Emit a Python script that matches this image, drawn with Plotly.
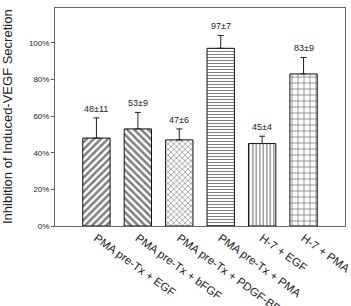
import plotly.graph_objects as go

categories = ["PMA pre-Tx + EGF", "PMA pre-Tx + bFGF", "PMA pre-Tx + PDGF-BB",
              "PMA pre-Tx + PMA", "H-7 + EGF", "H-7 + PMA"]
values = [48, 53, 47, 97, 45, 83]
errors = [11, 9, 6, 7, 4, 9]
labels = ["48±11", "53±9", "47±6", "97±7", "45±4", "83±9"]
patterns = ["/", "\\", "x", "-", "|", "+"]
pattern_sizes = [5, 5, 4, 3, 3.5, 6]
pattern_solidity = [0.5, 0.5, 0.3, 0.35, 0.35, 0.25]

x = list(range(len(categories)))

fig = go.Figure()
fig.add_trace(go.Bar(
    x=x, y=values, width=0.66,
    marker=dict(color="white", line=dict(color="#111", width=1),
                pattern=dict(shape=patterns, fgcolor="#000", bgcolor="white",
                             size=pattern_sizes, solidity=pattern_solidity, fillmode="overlay")),
    error_y=dict(type="data", array=errors, arrayminus=[0]*6, symmetric=False,
                 color="#222", thickness=1, width=3),
))
for xi, v, e, t in zip(x, values, errors, labels):
    fig.add_annotation(x=xi, y=v + e, text=t, showarrow=False, yanchor="bottom",
                       yshift=2, font=dict(size=9, color="#222", family="Liberation Sans, Arial"))

fig.add_annotation(text="Inhibition of Induced-VEGF Secretion", xref="paper", yref="paper",
                   x=-48 / 290, y=0.5, xanchor="center", yanchor="middle", textangle=-90,
                   showarrow=False, font=dict(size=13, color="#222", family="Liberation Sans, Arial"))

fig.update_layout(
    width=351, height=306, margin=dict(l=55, r=6, t=8, b=80, autoexpand=False),
    paper_bgcolor="white", plot_bgcolor="white", showlegend=False,
    font=dict(family="Liberation Sans, Arial", color="#222"),
)
fig.update_xaxes(range=[-1, 6], tickmode="array", tickvals=x, ticktext=categories,
                 tickangle=36, tickfont=dict(size=11.5), showline=True, linecolor="#666",
                 linewidth=1, mirror=True, ticks="", showgrid=False, automargin=False,
                 ticklabeloverflow="allow")
fig.update_yaxes(range=[0, 119], tickvals=[0, 20, 40, 60, 80, 100],
                 ticktext=["0%", "20%", "40%", "60%", "80%", "100%"],
                 tickfont=dict(size=8), ticks="outside", ticklen=3, tickcolor="#555",
                 showline=True, linecolor="#666", linewidth=1, mirror=True, showgrid=False,
                 zeroline=False, automargin=False)

fig.write_html("out.html")
